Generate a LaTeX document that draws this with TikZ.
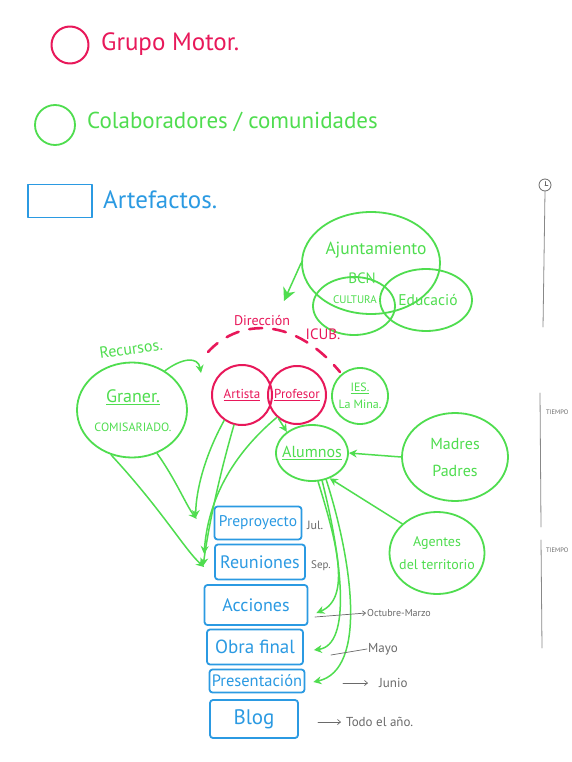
\documentclass[tikz,border=0pt]{standalone}
\usepackage{fontspec}
\setmainfont{PT Sans}
\usetikzlibrary{shapes.geometric,arrows.meta,calc}
\definecolor{mred}{HTML}{E8185A}
\definecolor{mgreen}{HTML}{4FDD4F}
\definecolor{mblue}{HTML}{2B9AE2}
\definecolor{mgrey}{HTML}{6A6A6A}
\newcommand\hsz[2]{\fontsize{#1}{#2}\selectfont}
\tikzset{
  gmc/.style={draw=mred, line width=2pt, circle, inner sep=0pt, text=mred},
  colc/.style={draw=mgreen, line width=1.8pt, ellipse, inner sep=0pt, text=mgreen},
  artb/.style={draw=mblue, line width=1.8pt, rectangle, rounded corners=3pt, inner sep=0pt, text=mblue},
  gtext/.style={text=mgreen, inner sep=1pt},
  rtext/.style={text=mred, inner sep=1pt},
  btext/.style={text=mblue, inner sep=1pt},
  gytext/.style={text=mgrey, inner sep=1pt},
  garr/.style={draw=mgreen, line width=1.5pt, -{Stealth[length=8pt,width=8pt]}},
  gyarr/.style={draw=mgrey, line width=0.7pt, -{Straight Barb[length=3pt,width=5pt]}},
  gyline/.style={draw=mgrey, line width=0.7pt},
  tline/.style={draw=mgrey!80, line width=0.8pt}
}
\begin{document}
\begin{tikzpicture}[x=1pt,y=-1pt,line cap=round,line join=round]
\useasboundingbox[fill=white] (0,0) rectangle (572,762);

% ---------- legend ----------
\node[gmc, minimum size=37pt] (legR) at (70,45) {};
\node[rtext, anchor=west, font=\hsz{25}{29}] (legRt) at (100,44) {Grupo Motor.};
\node[colc, minimum size=40pt] (legG) at (55,125) {};
\node[gtext, anchor=west, font=\hsz{23}{27}] (legGt) at (86,122) {Colaboradores / comunidades};
\node[artb, rounded corners=0pt, minimum width=64pt, minimum height=33pt] (legB) at (60,201) {};
\node[btext, anchor=west, font=\hsz{25}{29}] (legBt) at (102,200) {Artefactos.};

% ---------- timeline ----------
\node[draw=mgrey, line width=0.8pt, circle, minimum size=12pt, inner sep=0pt] (clock) at (545,185) {};
\draw[mgrey, line width=0.6pt] (clock.center) -- ++(0,-3.5) (clock.center) -- ++(3,0);
\coordinate (t1e) at (543,327);
\draw[tline] (clock.south) -- (t1e);
\coordinate (t2s) at (540,393);
\coordinate (t2e) at (541,527);
\draw[tline] (t2s) -- (t2e);
\node[gytext, anchor=west, font=\hsz{6.5}{8}] (tiempo1) at (545,412) {TIEMPO};
\coordinate (t3s) at (541,540);
\coordinate (t3e) at (542,648);
\draw[tline] (t3s) -- (t3e);
\node[gytext, anchor=west, font=\hsz{6.5}{8}] (tiempo2) at (545,550) {TIEMPO};

% ---------- Ajuntament ----------
\node[colc, minimum width=138pt, minimum height=102pt] (ajun) at (371,263) {};
\node[colc, minimum width=82pt, minimum height=58pt] (cult) at (354,306) {};
\node[colc, minimum width=92pt, minimum height=62pt] (educ) at (426,300) {};
\node[gtext, font=\hsz{17.5}{20}] (ajunt) at (376,250) {Ajuntamiento};
\node[gtext, font=\hsz{15}{17}] (bcn) at (362,278) {BCN};
\node[gtext, font=\hsz{11}{13}] (cultt) at (355,300) {CULTURA};
\node[gtext, font=\hsz{15.5}{18}] (educt) at (428,300) {Educació};
\coordinate (icubtip) at (284,301);
\draw[garr, -{Stealth[length=13pt,width=13pt]}] (ajun.west) -- (icubtip);

% ---------- Direccion ICUB ----------
\coordinate (arcS) at (208,352);
\coordinate (arcE) at (340,372);
\draw[mred, line width=2.6pt, dash pattern=on 13pt off 11pt] (arcS) .. controls (235,322) and (290,312) .. (arcE);
\node[rtext, font=\hsz{14}{16}] (dir) at (262,321) {Dirección};
\node[rtext, font=\hsz{15}{17}] (icub) at (323,334) {ICUB.};

% ---------- core ----------
\node[gmc, minimum size=60pt, font=\hsz{13}{15}] (art) at (242,395) {\underline{Artista}};
\node[gmc, minimum size=58pt, font=\hsz{13}{15}] (prof) at (297,395) {\underline{Profesor}};
\node[colc, minimum size=56pt] (ies) at (360,396) {};
\node[gtext, align=center, font=\hsz{12}{17}] (iest) at (ies.center) {\underline{IES.}\\La Mina.};

\node[gtext, font=\hsz{16}{18}, rotate=8] (rec) at (131,349) {Recursos.};
\node[colc, minimum width=110pt, minimum height=95pt] (gran) at (132,410) {};
\node[gtext, font=\hsz{18}{20}] (grant) at (133,397) {\underline{Graner.}};
\node[gtext, font=\hsz{12}{14}] (comis) at (133,427) {COMISARIADO.};
\coordinate (rectip) at (201,373);
\draw[garr] (gran.50) .. controls (182,358) and (198,356) .. (rectip);

\node[colc, minimum width=72pt, minimum height=56pt] (alum) at (312,453) {};
\node[gtext, font=\hsz{16}{18}] (alumt) at (alum.center) {\underline{Alumnos}};
\node[colc, minimum width=106pt, minimum height=88pt] (madres) at (455,457) {};
\node[gtext, align=center, font=\hsz{16}{27}] (madrest) at (madres.center) {Madres\\Padres};
\node[colc, minimum width=95pt, minimum height=82pt] (ag) at (437,553) {};
\node[gtext, align=center, font=\hsz{14}{23}] (agt) at (ag.center) {Agentes\\del territorio};

% ---------- artefacts ----------
\node[artb, minimum width=87pt, minimum height=33pt, font=\hsz{15.5}{17}] (prep) at (258,523) {Preproyecto};
\node[artb, minimum width=90pt, minimum height=35pt, font=\hsz{18}{20}] (reun) at (260,562) {Reuniones};
\node[artb, minimum width=103pt, minimum height=40pt, font=\hsz{18}{20}] (acc) at (256,605) {Acciones};
\node[artb, minimum width=96pt, minimum height=35pt, font=\hsz{19}{21}] (obra) at (255,647) {Obra final};
\node[artb, minimum width=95pt, minimum height=23pt, font=\hsz{16.5}{18}] (pres) at (257,681) {Presentación};
\node[artb, minimum width=88pt, minimum height=38pt, font=\hsz{21}{23}] (blog) at (254,719) {Blog};

% ---------- green connectors ----------
\draw[garr] (gran.300) .. controls (176,480) and (186,505) .. ($(prep.west)+(-17,-4)$);
\draw[garr] (art.235) .. controls (205,455) and (196,490) .. ($(prep.west)+(-18,-5)$);
\draw[garr] (gran.245) .. controls (162,510) and (185,550) .. ($(reun.west)+(-10,5)$);
\draw[garr] (art.255) .. controls (218,480) and (208,530) .. ($(reun.west)+(-11,4)$);
\draw[garr] (prof.228) .. controls (232,455) and (208,500) .. ($(reun.west)+(-10,-8)$);
\draw[garr] (prof.232) -- (alum.140);
\draw[garr] (madres.west) -- (alum.east);
\draw[garr] (ag.140) -- (alum.305);
\draw[garr] (alum.282) .. controls (336,540) and (352,598) .. ($(acc.east)+(8,8)$);
\draw[garr] (alum.290) .. controls (342,560) and (352,645) .. ($(obra.east)+(10,3)$);
\draw[garr] (alum.298) .. controls (352,560) and (368,670) .. ($(pres.east)+(8,1)$);

% ---------- dates ----------
\node[gytext, anchor=west, font=\hsz{12}{14}] (jul) at (306,525) {Jul.};
\node[gytext, anchor=west, font=\hsz{11}{13}] (sep) at (310,566) {Sep.};
\node[gytext, anchor=west, font=\hsz{10}{12}] (oct) at (366,613) {Octubre-Marzo};
\coordinate (octS) at (315,617);
\draw[gyarr] (octS) -- (oct.west);
\node[gytext, anchor=west, font=\hsz{13}{15}] (mayo) at (367,649) {Mayo};
\coordinate (mayoS) at (331,655);
\draw[gyline] (mayoS) -- (mayo.west);
\node[gytext, anchor=west, font=\hsz{13}{15}] (jun) at (378,683) {Junio};
\coordinate (junS) at (343,683);
\draw[gyarr, shorten >=10pt] (junS) -- (jun.west);
\node[gytext, anchor=west, font=\hsz{13}{15}] (todo) at (345,722) {Todo el año.};
\coordinate (todoS) at (318,722);
\draw[gyarr, shorten >=4pt] (todoS) -- (todo.west);
\end{tikzpicture}
\end{document}
